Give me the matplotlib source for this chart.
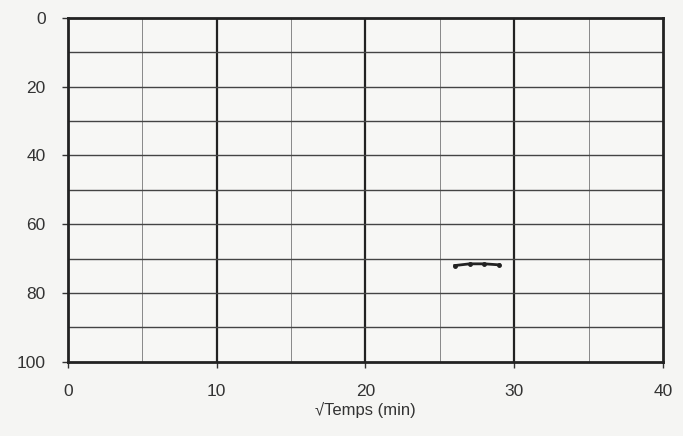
import matplotlib
matplotlib.use("Agg")
import matplotlib.pyplot as plt
import numpy as np

plt.rcParams['font.family'] = ['Liberation Sans', 'DejaVu Sans']

x_vals = [26.0, 27.0, 28.0, 29.0]
y_vals = [72.0, 71.5, 71.5, 71.8]
x_ticks = [0, 10, 20, 30, 40]
y_ticks = [0, 20, 40, 60, 80, 100]
x_minor = [5, 15, 25, 35]
y_minor = [10, 30, 50, 70, 90]

fig = plt.figure(figsize=(6.83, 4.36), dpi=100, facecolor='#f5f5f3')
ax = fig.add_axes([0.0996, 0.17, 0.871, 0.789])
ax.set_facecolor('#f7f7f5')
ax.set_xlim(0, 40)
ax.set_ylim(100, 0)

for xv in x_ticks[1:-1]:
    ax.axvline(xv, color='#222222', lw=1.6, zorder=1)
for xv in x_minor:
    ax.axvline(xv, color='#777777', lw=0.6, zorder=1)
for yv in y_ticks[1:-1] + y_minor:
    ax.axhline(yv, color='#444444', lw=1.0, zorder=1)

ax.plot(x_vals, y_vals, color='#222222', lw=2.0, marker='.', ms=5, zorder=3)

for s in ax.spines.values():
    s.set_linewidth(2.0)
    s.set_color('#222222')

ax.set_xticks(x_ticks)
ax.set_yticks(y_ticks)
ax.tick_params(axis='both', labelsize=12.5, colors='#333333', length=4, width=1)
ax.tick_params(axis='x', pad=12)
ax.tick_params(axis='y', pad=12)
ax.set_xlabel('√Temps (min)', fontsize=12, color='#333333', labelpad=2)

fig.savefig('out.png', dpi=100, facecolor=fig.get_facecolor())
